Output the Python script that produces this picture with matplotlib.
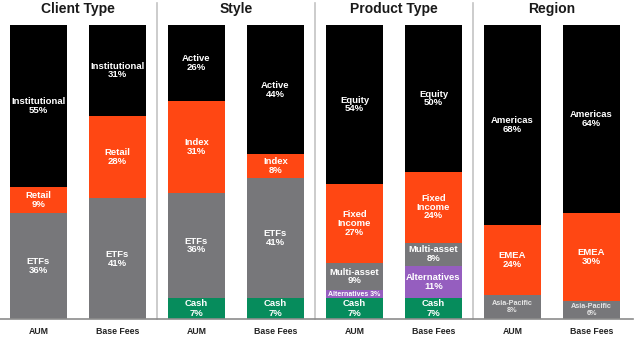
import matplotlib.pyplot as plt

plt.rcParams['font.family'] = ['Liberation Sans', 'DejaVu Sans']

panels = ['Client Type', 'Style', 'Product Type', 'Region']
bar_labels = ['AUM', 'Base Fees']

# segments listed bottom to top
client_segments = ['ETFs', 'Retail', 'Institutional']
client_aum = [36, 9, 55]
client_fees = [41, 28, 31]

style_segments = ['Cash', 'ETFs', 'Index', 'Active']
style_aum = [7, 36, 31, 26]
style_fees = [7, 41, 8, 44]

product_segments = ['Cash', 'Alternatives', 'Multi-asset', 'Fixed\nIncome', 'Equity']
product_aum = [7, 3, 9, 27, 54]
product_fees = [7, 11, 8, 24, 50]

region_segments = ['Asia-Pacific', 'EMEA', 'Americas']
region_aum = [8, 24, 68]
region_fees = [6, 30, 64]

BLACK = '#000000'
ORANGE = '#FF4713'
GRAY = '#77777A'
GREEN = '#068C5C'
PURPLE = '#955EBF'

seg_colors = {
    'ETFs': GRAY, 'Retail': ORANGE, 'Institutional': BLACK,
    'Cash': GREEN, 'Index': ORANGE, 'Active': BLACK,
    'Alternatives': PURPLE, 'Multi-asset': GRAY, 'Fixed\nIncome': ORANGE, 'Equity': BLACK,
    'Asia-Pacific': GRAY, 'EMEA': ORANGE, 'Americas': BLACK,
}

groups = [
    (client_segments, client_aum, client_fees),
    (style_segments, style_aum, style_fees),
    (product_segments, product_aum, product_fees),
    (region_segments, region_aum, region_fees),
]

fig = plt.figure(figsize=(6.4, 3.4), dpi=100)
ax = fig.add_axes([0, 21 / 340, 633 / 640, 294 / 340])

xticks = []
xticklabels = []
pos = 0
for gi, (segs, aum, fees) in enumerate(groups):
    for bi, vals in enumerate([aum, fees]):
        bottom = 0
        for name, v in zip(segs, vals):
            ax.bar(pos, v, bottom=bottom, width=0.72, color=seg_colors[name],
                   edgecolor='none')
            mid = bottom + v / 2
            if v < 5:
                ax.text(pos, mid, f'{name} {v}%', ha='center', va='center',
                        color='white', fontsize=5, fontweight='bold')
            elif name == 'Asia-Pacific':
                ax.text(pos, mid, f'{name}\n{v}%', ha='center', va='center',
                        color='#E6E6E6', fontsize=5.2, fontweight='bold',
                        linespacing=0.95)
            elif name == 'Cash':
                ax.text(pos, mid, f'{name}\n{v}%', ha='center', va='center',
                        color='white', fontsize=6.8, fontweight='bold',
                        linespacing=1.15)
            else:
                ax.text(pos, mid, f'{name}\n{v}%', ha='center', va='center',
                        color='white', fontsize=6.8, fontweight='bold',
                        linespacing=0.95)
            bottom += v
        xticks.append(pos)
        xticklabels.append(bar_labels[bi])
        pos += 1
    ax.text(gi * 2 + 0.5, 105.4, panels[gi], ha='center', va='center',
            fontsize=10, fontweight='bold', color='#1A1A1A')
    if gi < 3:
        ax.plot([gi * 2 + 1.5] * 2, [0, 107.5], color='#C4C4C4', lw=1.2,
                clip_on=False)

ax.set_xlim(-0.487, 7.525)
ax.set_ylim(0, 100)
ax.set_xticks(xticks)
ax.set_xticklabels(xticklabels, fontsize=6.3, fontweight='bold', color='#222222')
ax.tick_params(axis='x', length=0, pad=6)
ax.set_yticks([])
for s in ['top', 'left', 'right']:
    ax.spines[s].set_visible(False)
ax.spines['bottom'].set_color('#8C8C8C')
ax.spines['bottom'].set_linewidth(1.2)

fig.savefig('out.png', dpi=100)
